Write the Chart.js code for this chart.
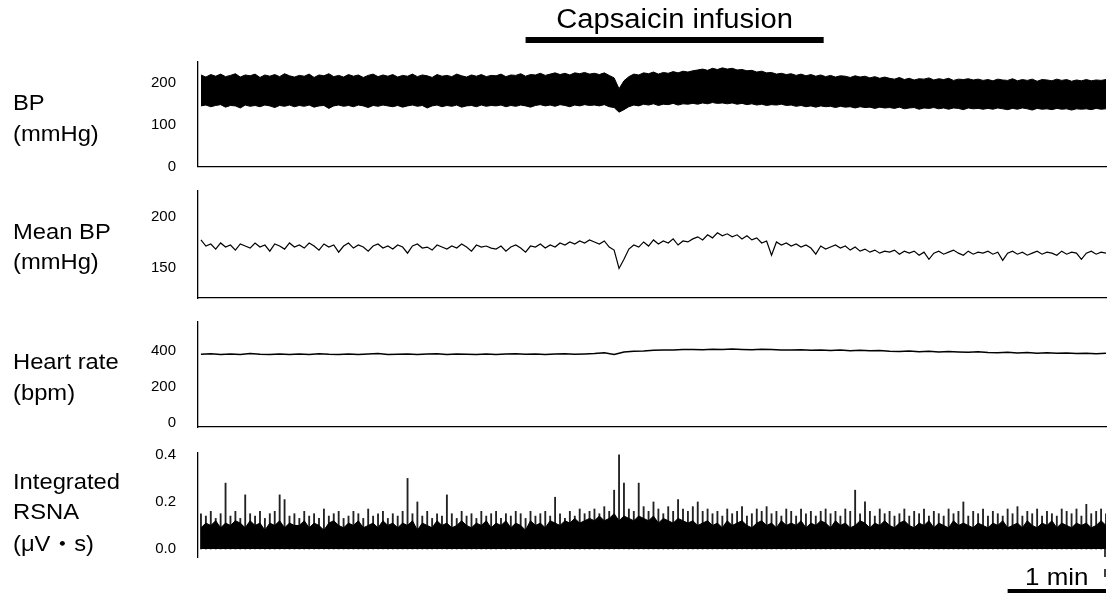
<!DOCTYPE html>
<html>
<head>
<meta charset="utf-8">
<script src="https://cdn.jsdelivr.net/npm/chart.js@4.4.1/dist/chart.umd.min.js"></script>
<style>
  body { margin: 0; background: #fff; width: 1109px; height: 595px; overflow: hidden; position: relative; }
  .panel { position: absolute; left: 0; width: 1109px; }
  .panel canvas { display: block; }
</style>
</head>
<body>
<div class="panel" style="top:0"><canvas id="bp" width="1109" height="180"></canvas></div>
<div class="panel" style="top:180px"><canvas id="mbp" width="1109" height="130"></canvas></div>
<div class="panel" style="top:310px"><canvas id="hr" width="1109" height="130"></canvas></div>
<div class="panel" style="top:440px"><canvas id="rsna" width="1109" height="155"></canvas></div>
<script>
// time axis (min)
const STEP = 0.05;     // BP, mean BP, RSNA samples
const HR_STEP = 0.1;
const X_MIN = -0.03;
const X_MAX = 9.2;
const capsaicin = [3.3, 6.33];
const scaleBar = [8.2, 9.2];

// tick labels
const bpTicks = [0, 100, 200];
const mbpTicks = [150, 200];
const hrTicks = [0, 200, 400];
const rsnaTicks = [0, 0.2, 0.4];
const rsnaTickLabels = ["0.0", "0.2", "0.4"];

// BP envelope (mmHg): systolic top / diastolic bottom of the pulsatile trace
const bpSys = [
  219,214,220,216,221,215,218,222,214,219,217,221,213,219,216,220,215,222,217,214,
  218,216,221,213,219,217,222,215,218,214,220,216,219,213,218,221,215,219,216,220,
  214,218,216,221,215,219,217,213,220,216,218,215,221,217,214,219,216,220,215,218,
  217,221,215,219,218,222,216,220,219,223,218,221,224,220,223,219,224,222,225,221,
  223,220,224,218,212,186,205,215,221,219,224,222,226,221,225,223,227,224,228,226,
  229,231,233,230,235,232,236,233,235,231,232,229,230,226,228,224,225,221,223,220,
  222,218,221,217,220,216,219,215,218,214,217,216,213,217,214,216,212,215,211,214,
  211,209,213,208,211,207,210,209,212,207,210,208,211,206,209,208,210,207,209,206,
  208,205,209,207,206,210,205,208,206,209,204,208,207,205,209,206,208,204,207,205,
  208,205,207,206,208
];
const bpDia = [
  145,147,143,146,148,142,146,145,140,147,144,146,143,147,145,141,146,144,147,143,
  146,144,147,142,145,146,139,145,147,144,146,143,147,145,141,146,144,147,145,143,
  146,142,145,147,144,146,140,145,147,143,146,144,147,142,145,146,143,147,144,146,
  145,147,143,146,144,147,145,142,146,148,145,147,144,148,146,143,147,145,148,146,
  147,145,148,143,141,130,136,143,147,145,149,147,150,146,149,148,151,147,150,149,
  151,149,152,150,153,151,152,150,152,149,151,148,150,147,149,146,148,147,149,146,
  147,144,146,143,145,142,145,143,144,141,144,142,143,140,143,141,142,139,142,140,
  141,139,142,138,140,141,137,140,139,141,138,140,137,140,139,136,140,138,139,137,
  139,137,140,138,136,139,137,140,138,135,139,137,138,136,139,137,138,135,138,137,
  138,136,139,137,138
];

// mean BP (mmHg)
const meanBp = [
  177,171,173,168,174,170,172,167,173,171,169,174,170,172,166,173,171,168,174,170,
  172,169,174,171,167,173,170,172,165,171,174,169,172,170,166,171,173,169,171,168,
  172,170,164,171,173,169,170,167,172,170,168,171,169,173,170,166,172,170,171,169,
  168,171,166,170,172,169,165,171,170,173,169,172,170,174,172,175,173,176,174,177,
  175,173,176,170,167,149,158,168,172,170,175,171,177,173,176,174,178,172,176,175,
  178,180,177,182,179,184,181,183,180,182,178,181,177,179,174,176,162,175,172,174,
  171,173,170,172,169,163,171,168,170,172,169,171,167,170,166,168,165,167,164,166,
  165,167,163,166,164,166,162,165,158,164,166,163,165,167,164,162,166,163,165,164,
  166,163,165,157,164,166,163,165,162,164,166,163,165,164,162,166,163,165,164,158,
  164,166,163,165,164
];

// heart rate (bpm)
const heartRate = [
  382,385,380,384,381,386,382,380,384,381,
  383,380,385,382,381,384,380,383,386,381,
  382,384,380,383,385,381,384,382,380,384,
  381,383,385,382,384,380,383,385,382,384,
  386,390,380,394,398,400,404,406,405,408,
  409,407,410,408,411,409,407,410,408,406,
  405,407,404,406,403,405,402,404,401,403,
  399,397,400,396,398,394,397,395,393,396,
  392,390,393,389,391,388,390,387,389,386,
  388,385,387
];

// integrated RSNA (µV·s): solid level and peak per sample
const rsnaBase = [
  .09,.11,.10,.12,.09,.11,.10,.12,.11,.09,.12,.10,.11,.08,.11,.10,.12,.09,.11,.10,
  .10,.12,.09,.11,.10,.08,.11,.12,.10,.09,.11,.10,.12,.09,.10,.11,.09,.12,.10,.11,
  .09,.11,.10,.12,.08,.11,.10,.09,.12,.10,.11,.09,.10,.12,.10,.09,.11,.10,.12,.09,
  .11,.10,.12,.09,.11,.10,.08,.12,.10,.11,.09,.12,.11,.10,.12,.11,.13,.11,.12,.13,
  .12,.14,.12,.13,.15,.12,.14,.13,.12,.14,.13,.12,.14,.11,.13,.12,.11,.13,.12,.11,
  .12,.10,.11,.12,.10,.11,.09,.12,.10,.11,.12,.10,.09,.11,.12,.10,.11,.09,.12,.10,
  .11,.10,.12,.09,.11,.10,.12,.11,.09,.12,.10,.11,.09,.10,.12,.11,.09,.11,.10,.12,
  .10,.09,.11,.12,.10,.09,.11,.10,.12,.09,.11,.10,.09,.12,.10,.11,.10,.09,.11,.10,
  .09,.11,.10,.12,.09,.10,.11,.09,.12,.10,.09,.11,.10,.12,.09,.11,.10,.09,.11,.10,
  .11,.09,.10,.12,.10
];
const rsnaPeak = [
  .15,.14,.16,.13,.15,.28,.14,.16,.13,.23,.15,.14,.16,.13,.15,.16,.23,.21,.14,.15,
  .13,.16,.14,.15,.13,.17,.14,.15,.16,.13,.14,.16,.15,.13,.17,.14,.15,.16,.13,.15,
  .14,.16,.30,.15,.20,.14,.16,.13,.15,.14,.23,.15,.13,.16,.14,.15,.13,.16,.14,.15,
  .16,.13,.15,.14,.16,.15,.13,.16,.14,.15,.16,.14,.22,.15,.13,.16,.14,.17,.15,.16,
  .17,.15,.18,.16,.25,.40,.28,.17,.16,.28,.18,.16,.20,.17,.15,.18,.16,.21,.17,.16,
  .18,.20,.16,.17,.15,.16,.14,.17,.15,.16,.18,.14,.15,.17,.16,.18,.15,.16,.14,.17,
  .16,.14,.17,.15,.16,.14,.16,.17,.15,.16,.14,.17,.16,.25,.15,.20,.16,.14,.17,.15,
  .16,.14,.15,.17,.14,.16,.15,.17,.14,.16,.15,.14,.17,.15,.16,.20,.14,.16,.15,.17,
  .14,.16,.15,.14,.17,.15,.18,.14,.16,.15,.17,.14,.16,.15,.14,.17,.16,.15,.17,.14,
  .19,.15,.16,.17,.15
];

const FONT = "'Liberation Sans', Arial, 'Noto Sans CJK JP', sans-serif";
const toPoints = (arr, step) => arr.map((v, i) => ({ x: i * step, y: v }));

// stretched text, the source figure uses a slightly wide sans
function wideText(ctx, text, x, y, size, align) {
  ctx.save();
  ctx.font = `${size}px ${FONT}`;
  ctx.textAlign = align || "left";
  ctx.textBaseline = "alphabetic";
  ctx.translate(x, y);
  ctx.scale(1.08, 1);
  ctx.fillText(text, 0, 0);
  ctx.restore();
}

const sideLabelPlugin = {
  id: "sideLabel",
  afterDraw(chart, args, opts) {
    const ctx = chart.ctx;
    ctx.save();
    ctx.fillStyle = "#000";
    (opts.lines || []).forEach(([text, y]) => wideText(ctx, text, 13, y, 22));
    ctx.restore();
  },
};

const capsaicinPlugin = {
  id: "capsaicin",
  afterDraw(chart) {
    const { ctx, scales: { x } } = chart;
    const x0 = x.getPixelForValue(capsaicin[0]);
    const x1 = x.getPixelForValue(capsaicin[1]);
    ctx.save();
    ctx.fillStyle = "#000";
    ctx.fillRect(x0, 37, x1 - x0, 6);
    wideText(ctx, "Capsaicin infusion", (x0 + x1) / 2, 28, 27, "center");
    ctx.restore();
  },
};

const scaleBarPlugin = {
  id: "scaleBar",
  afterDraw(chart) {
    const { ctx, scales: { x, y } } = chart;
    const x0 = x.getPixelForValue(scaleBar[0]);
    const x1 = x.getPixelForValue(scaleBar[1]);
    ctx.save();
    ctx.fillStyle = "#000";
    ctx.fillRect(x0, 149, x1 - x0, 4);
    wideText(ctx, "1 min", (x0 + x1) / 2, 145, 24, "center");
    ctx.strokeStyle = "#000";
    ctx.lineWidth = 1.5;
    ctx.setLineDash([8, 12]);
    ctx.beginPath();
    ctx.moveTo(x1 - 1, y.getPixelForValue(0));
    ctx.lineTo(x1 - 1, 142);
    ctx.stroke();
    ctx.restore();
  },
};

function makePanel(id, cfg) {
  const ctx = document.getElementById(id).getContext("2d");
  return new Chart(ctx, {
    type: "line",
    data: { datasets: cfg.datasets },
    options: {
      responsive: false,
      animation: false,
      events: [],
      layout: {
        autoPadding: false,
        padding: { top: cfg.padTop, bottom: cfg.padBottom, left: 0, right: 3 },
      },
      plugins: {
        legend: { display: false },
        tooltip: { enabled: false },
        sideLabel: { lines: cfg.labels },
      },
      elements: { point: { radius: 0 }, line: { tension: 0 } },
      scales: {
        x: {
          type: "linear",
          min: X_MIN,
          max: X_MAX,
          offset: false,
          grid: { display: false, drawTicks: false },
          ticks: { display: false },
          border: { display: cfg.xBorder, color: "#000", width: 1.3 },
          afterFit: (s) => { s.height = 0; s.paddingLeft = 0; s.paddingRight = 0; },
        },
        y: {
          min: cfg.min,
          max: cfg.max,
          grid: { display: false, drawTicks: false },
          border: { display: true, color: "#000", width: 1.3 },
          ticks: {
            color: "#000",
            font: { family: FONT, size: 15 },
            padding: 22,
            autoSkip: false,
            callback: cfg.tickLabel || ((v) => v),
          },
          afterBuildTicks: (s) => { s.ticks = cfg.ticks.map((v) => ({ value: v })); },
          // keep the plot box fixed: no extra room for the edge tick labels
          afterFit: (s) => { s.width = 198; s.paddingTop = 0; s.paddingBottom = 0; },
        },
      },
    },
    plugins: [sideLabelPlugin].concat(cfg.extra || []),
  });
}

makePanel("bp", {
  padTop: 62, padBottom: 13.5, min: 0, max: 250, ticks: bpTicks, xBorder: true,
  labels: [["BP", 110], ["(mmHg)", 141]],
  extra: [capsaicinPlugin],
  datasets: [
    { data: toPoints(bpSys, STEP), borderColor: "#000", borderWidth: 1, backgroundColor: "#000", fill: "+1" },
    { data: toPoints(bpDia, STEP), borderColor: "#000", borderWidth: 1, fill: false },
  ],
});

makePanel("mbp", {
  padTop: 11, padBottom: 12, min: 120, max: 225, ticks: mbpTicks, xBorder: true,
  labels: [["Mean BP", 59], ["(mmHg)", 89]],
  datasets: [
    { data: toPoints(meanBp, STEP), borderColor: "#000", borderWidth: 1.2, fill: false },
  ],
});

makePanel("hr", {
  padTop: 12, padBottom: 13, min: -22, max: 561, ticks: hrTicks, xBorder: true,
  labels: [["Heart rate", 59], ["(bpm)", 90]],
  datasets: [
    { data: toPoints(heartRate, HR_STEP), borderColor: "#000", borderWidth: 1.5, fill: false },
  ],
});

makePanel("rsna", {
  padTop: 13, padBottom: 38, min: -0.034, max: 0.408, ticks: rsnaTicks, xBorder: false,
  tickLabel: (v, i) => rsnaTickLabels[i],
  labels: [["Integrated", 49], ["RSNA", 79], ["(μV・s)", 111]],
  extra: [scaleBarPlugin],
  datasets: [
    { type: "line", data: toPoints(rsnaBase, STEP), borderColor: "#000", borderWidth: 1, backgroundColor: "#000", fill: "origin" },
    { type: "bar", data: toPoints(rsnaPeak, STEP), backgroundColor: "#222", barThickness: 1.2 },
  ],
});
</script>
</body>
</html>
